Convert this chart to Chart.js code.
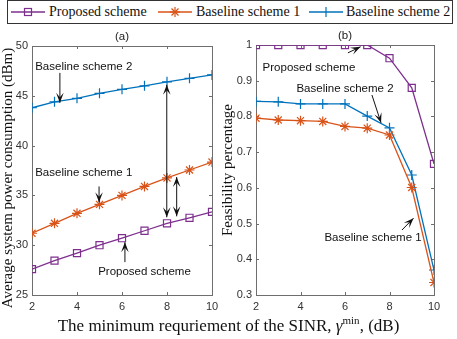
<!DOCTYPE html>
<html>
<head>
<meta charset="utf-8">
<script src="https://cdn.jsdelivr.net/npm/chart.js@4.4.0/dist/chart.umd.min.js"></script>
<style>
  body { margin: 0; background: #fff; }
  #wrap { position: relative; width: 457px; height: 339px; background: #fff; overflow: hidden; }
  canvas { position: absolute; top: 0; }
  #legend { position: absolute; left: 7px; top: 0px; width: 444px; height: 22px; border: 1px solid #333; background: #fff;
            font-family: "Liberation Serif", serif; font-size: 14px; color: #111; }
  .item { position: absolute; top: 0; height: 22px; line-height: 22px; white-space: nowrap; }
  .item svg { position: absolute; left: 0; top: 4px; }
  .item span { position: absolute; top: 0; }
  #xtitle { position: absolute; left: 0; width: 457px; top: 314px; text-align: center;
            font-family: "Liberation Serif", serif; font-size: 17px; color: #111; white-space: nowrap; }
  #xtitle sup { font-size: 11px; }
</style>
</head>
<body>
<div id="wrap">
  <canvas id="chartA" width="224" height="339" style="left:0"></canvas>
  <canvas id="chartB" width="243" height="339" style="left:214px"></canvas>
  <div id="legend">
    <div class="item" style="left:2px">
      <svg width="36" height="14"><line x1="1" y1="7" x2="35" y2="7" stroke="#7E2F8E" stroke-width="1.3"/><rect x="14.5" y="3.5" width="7" height="7" fill="none" stroke="#7E2F8E" stroke-width="1.2"/></svg>
      <span style="left:39px">Proposed scheme</span>
    </div>
    <div class="item" style="left:149px">
      <svg width="36" height="14"><line x1="1" y1="7" x2="35" y2="7" stroke="#D95319" stroke-width="1.3"/><g stroke="#D95319" stroke-width="1.2"><line x1="18" y1="2" x2="18" y2="12"/><line x1="13" y1="7" x2="23" y2="7"/><line x1="14.5" y1="3.5" x2="21.5" y2="10.5"/><line x1="21.5" y1="3.5" x2="14.5" y2="10.5"/></g></svg>
      <span style="left:39px">Baseline scheme 1</span>
    </div>
    <div class="item" style="left:300px">
      <svg width="36" height="14"><line x1="1" y1="7" x2="35" y2="7" stroke="#0072BD" stroke-width="1.3"/><line x1="18" y1="2" x2="18" y2="12" stroke="#0072BD" stroke-width="1.2"/></svg>
      <span style="left:38px">Baseline scheme 2</span>
    </div>
  </div>
  <div id="xtitle">The minimum requriement of the SINR, <i>γ</i><sup>min</sup>, (dB)</div>
</div>
<script>
const gammaDb = [2, 3, 4, 5, 6, 7, 8, 9, 10];

// (a) average system power consumption, dBm
const powerProposed  = [27.6, 28.45, 29.2, 30.0, 30.7, 31.45, 32.2, 32.75, 33.35];
const powerBaseline1 = [31.2, 32.2, 33.2, 34.1, 35.0, 35.9, 36.75, 37.55, 38.35];
const powerBaseline2 = [43.8, 44.4, 44.75, 45.25, 45.65, 46.0, 46.4, 46.75, 47.1];

// (b) feasibility percentage
const feasProposed  = [1, 1, 1, 1, 1, 1, 0.963, 0.88, 0.667];
const feasBaseline1 = [0.795, 0.79, 0.788, 0.786, 0.772, 0.767, 0.748, 0.601, 0.335];
const feasBaseline2 = [0.842, 0.841, 0.835, 0.835, 0.835, 0.801, 0.768, 0.636, 0.37];

const xTicks = [2, 4, 6, 8, 10];
const powerTicks = [25, 30, 35, 40, 45, 50];
const feasTicks = [0.3, 0.4, 0.5, 0.6, 0.7, 0.8, 0.9, 1];

const PURPLE = '#7E2F8E', ORANGE = '#D95319', BLUE = '#0072BD';
const SANS = '"Liberation Sans", Arial, sans-serif';
const SERIF = '"Liberation Serif", serif';

function pts(ys) { return gammaDb.map((x, i) => ({ x: x, y: ys[i] })); }

function series(label, ys, color, style, r) {
  return {
    label: label, data: pts(ys), borderColor: color, backgroundColor: 'rgba(0,0,0,0)',
    borderWidth: 1.3, pointStyle: style, pointRadius: r, pointHoverRadius: r,
    pointBorderColor: color, pointBackgroundColor: 'rgba(0,0,0,0)', pointBorderWidth: 1.2, tension: 0
  };
}

// arrow with a matlab-like notched head at (x2,y2)
function arrowHead(ctx, x1, y1, x2, y2) {
  const a = Math.atan2(y2 - y1, x2 - x1), L = 10, W = 3.8;
  ctx.save();
  ctx.translate(x2, y2); ctx.rotate(a);
  ctx.beginPath();
  ctx.moveTo(0, 0); ctx.lineTo(-L, -W); ctx.lineTo(-L * 0.55, 0); ctx.lineTo(-L, W);
  ctx.closePath(); ctx.fill();
  ctx.restore();
}

function arrow(ctx, x1, y1, x2, y2, both) {
  ctx.beginPath(); ctx.moveTo(x1, y1); ctx.lineTo(x2, y2); ctx.stroke();
  arrowHead(ctx, x1, y1, x2, y2);
  if (both) arrowHead(ctx, x2, y2, x1, y1);
}

const framePlugin = {
  id: 'frame',
  beforeDatasetsDraw(chart) {
    const { ctx, chartArea: a, scales } = chart;
    const yTicks = chart.options.plugins.frame.yTicks;
    ctx.save();
    ctx.strokeStyle = '#6e6e6e'; ctx.lineWidth = 1;
    ctx.strokeRect(Math.round(a.left) + 0.5, Math.round(a.top) + 0.5, Math.round(a.right - a.left), Math.round(a.bottom - a.top));
    ctx.beginPath();
    xTicks.forEach(v => {
      const px = Math.round(scales.x.getPixelForValue(v)) + 0.5;
      ctx.moveTo(px, a.bottom); ctx.lineTo(px, a.bottom - 3);
      ctx.moveTo(px, a.top); ctx.lineTo(px, a.top + 3);
    });
    yTicks.forEach(v => {
      const py = Math.round(scales.y.getPixelForValue(v)) + 0.5;
      ctx.moveTo(a.left, py); ctx.lineTo(a.left + 3, py);
      ctx.moveTo(a.right, py); ctx.lineTo(a.right - 3, py);
    });
    ctx.stroke();
    ctx.restore();
  },
  afterDatasetsDraw(chart) {
    const o = chart.options.plugins.frame;
    const { ctx, chartArea: a, scales } = chart;
    const X = v => scales.x.getPixelForValue(v), Y = v => scales.y.getPixelForValue(v);
    ctx.save();
    ctx.fillStyle = '#222';
    ctx.font = '11.5px ' + SANS;
    ctx.textAlign = 'center'; ctx.textBaseline = 'middle';
    ctx.fillText(o.panel, (a.left + a.right) / 2, a.top - 9);
    ctx.fillStyle = '#111';
    o.notes.forEach(n => ctx.fillText(n.text, X(n.x), Y(n.y)));
    ctx.strokeStyle = '#111'; ctx.fillStyle = '#111'; ctx.lineWidth = 1;
    o.arrows.forEach(r => arrow(ctx, X(r[0]), Y(r[1]), X(r[2]), Y(r[3]), r[4]));
    // y axis title
    ctx.translate(o.titleX, o.titleY);
    ctx.rotate(-Math.PI / 2);
    ctx.font = '15px ' + SERIF;
    ctx.fillStyle = '#111';
    ctx.fillText(o.yTitle, 0, 0);
    ctx.restore();
  }
};

function makeChart(id, sets, yTicks, yFmt, pad, yWidth, frame) {
  frame.yTicks = yTicks;
  return new Chart(document.getElementById(id), {
    type: 'line',
    data: { datasets: sets },
    plugins: [framePlugin],
    options: {
      responsive: false, animation: false, events: [],
      layout: { padding: pad },
      plugins: { legend: { display: false }, tooltip: { enabled: false }, frame: frame },
      scales: {
        x: {
          type: 'linear', min: xTicks[0], max: xTicks[xTicks.length - 1],
          grid: { display: false, drawTicks: false }, border: { display: false },
          afterBuildTicks: s => { s.ticks = xTicks.map(v => ({ value: v })); },
          ticks: { padding: 5, color: '#333', font: { family: SANS, size: 11 } },
          afterFit: s => { s.height = 44; }
        },
        y: {
          min: yTicks[0], max: yTicks[yTicks.length - 1],
          grid: { display: false, drawTicks: false }, border: { display: false },
          afterBuildTicks: s => { s.ticks = yTicks.map(v => ({ value: v })); },
          ticks: { padding: 4, color: '#333', font: { family: SANS, size: 11 }, callback: yFmt },
          afterFit: s => { s.width = yWidth; }
        }
      }
    }
  });
}

makeChart('chartA', [
  series('Proposed scheme', powerProposed, PURPLE, 'rect', 5),
  series('Baseline scheme 1', powerBaseline1, ORANGE, 'star', 5),
  series('Baseline scheme 2', powerBaseline2, BLUE, 'cross', 5)
], powerTicks, v => v, { left: 0, top: 46, right: 12, bottom: 0 }, 32, {
  panel: '(a)', yTitle: 'Average system power consumption (dBm)', titleX: 8, titleY: 178,
  notes: [
    { text: 'Baseline scheme 2', x: 4.3, y: 47.9 },
    { text: 'Baseline scheme 1', x: 4.3, y: 37.25 },
    { text: 'Proposed scheme', x: 7.0, y: 27.3 }
  ],
  arrows: [
    [3.24, 47.3, 3.24, 44.3, false],
    [4.98, 35.9, 4.98, 34.3, false],
    [6.13, 28.3, 6.13, 30.3, false],
    [7.99, 32.8, 7.99, 46.1, true],
    [8.43, 32.9, 8.43, 36.85, true]
  ]
});

makeChart('chartB', [
  series('Proposed scheme', feasProposed, PURPLE, 'rect', 5),
  series('Baseline scheme 1', feasBaseline1, ORANGE, 'star', 5),
  series('Baseline scheme 2', feasBaseline2, BLUE, 'cross', 5)
], feasTicks, v => (Math.abs(v - 1) < 1e-9 ? '1' : v.toFixed(1)), { left: 0, top: 45, right: 23, bottom: 0 }, 42, {
  panel: '(b)', yTitle: 'Feasibility percentage', titleX: 14, titleY: 170,
  notes: [
    { text: 'Proposed scheme', x: 4.38, y: 0.936 },
    { text: 'Baseline scheme 2', x: 6.0, y: 0.877 },
    { text: 'Baseline scheme 1', x: 7.26, y: 0.459 }
  ],
  arrows: [
    [6.13, 0.978, 6.7, 0.995, false],
    [7.21, 0.86, 7.62, 0.782, false],
    [8.56, 0.482, 9.08, 0.515, false]
  ]
});
</script>
</body>
</html>
